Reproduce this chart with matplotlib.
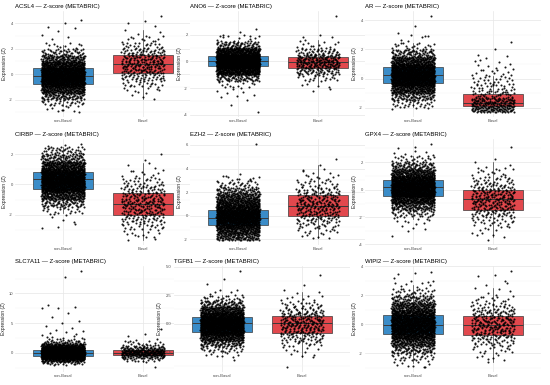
import numpy as np
import matplotlib
matplotlib.use("Agg")
import matplotlib.pyplot as plt
from matplotlib.ticker import MultipleLocator, FormatStrFormatter

plt.rcParams['font.family'] = ['Liberation Sans', 'DejaVu Sans']
plt.rcParams['axes.unicode_minus'] = False

# ---- data (Z-scores) ----
genes = ["ACSL4", "ANO6", "AR", "CIRBP", "EZH2", "GPX4", "SLC7A11", "TGFB1", "WIPI2"]
groups = ["non-Basal", "Basal"]

# box stats (q1, median, q3)
nb_box = [(-0.76, -0.16, 0.47), (-0.38, 0.00, 0.41), (-0.30, 0.23, 0.80),
          (-0.28, 0.33, 0.81), (-0.80, -0.17, 0.43), (-0.44, 0.17, 0.73),
          (-0.45, 0.05, 0.50), (-0.70, 0.03, 0.61), (-0.68, -0.05, 0.68)]
ba_box = [(0.11, 0.82, 1.53), (-0.53, -0.04, 0.33), (-1.85, -1.67, -1.03),
          (-1.99, -1.27, -0.57), (0.00, 0.77, 1.77), (-1.46, -0.71, 0.00),
          (-0.33, 0.05, 0.50), (-0.82, 0.06, 0.70), (-0.75, -0.05, 0.61)]

# point counts in 0.5-wide bins, starting at *_lo
nb_lo = [-3.0, -2.0, -2.5, -2.5, -2.1, -3.0, -2.0, -3.0, -3.0]
nb_counts = [
    [6, 26, 77, 171, 282, 339, 315, 216, 110, 42, 11],
    [12, 70, 255, 485, 485, 255, 68, 10],
    [0, 27, 80, 195, 340, 394, 325, 188, 73, 20, 4],
    [3, 18, 69, 175, 321, 401, 341, 207, 85, 40],
    [100, 150, 200, 280, 290, 230, 170, 120, 60, 25, 10],
    [2, 9, 36, 107, 220, 340, 368, 299, 170, 73, 22, 5],
    [20, 88, 244, 424, 441, 287, 112, 35, 12, 5],
    [7, 26, 71, 156, 259, 324, 325, 242, 144, 64, 23, 6],
    [8, 27, 73, 152, 247, 316, 316, 247, 152, 73, 27, 8, 2],
]
ba_lo = [-2.0, -2.0, -2.3, -3.5, -2.0, -3.5, -1.5, -3.0, -3.0]
ba_counts = [
    [3, 8, 19, 34, 49, 56, 52, 38, 23, 11, 4],
    [4, 18, 54, 88, 81, 41, 12, 2],
    [110, 90, 35, 25, 18, 12, 7, 3],
    [10, 22, 36, 51, 57, 49, 36, 20, 9, 3],
    [6, 13, 21, 33, 41, 46, 43, 36, 26, 16, 9, 4],
    [4, 10, 20, 36, 48, 55, 51, 37, 22, 11, 4],
    [10, 38, 85, 88, 48, 20, 8, 3],
    [3, 7, 16, 29, 42, 51, 51, 42, 29, 16, 7, 3],
    [0, 6, 13, 28, 45, 57, 57, 45, 28, 13, 5, 2],
]

# scattered points outside the dense cloud
nb_extra = [
    [4.3, 4.0, 3.7, 3.6, 3.4, 3.1, 2.9, 2.8, -3.0, -2.8],
    [2.4, 2.2, 2.0, 1.9, -2.1, -2.2, -2.3, -2.4, -2.5, -2.6, -2.7, -2.9, -3.3, -3.8],
    [4.3, 3.6, 3.1, 2.9, 2.6, -2.1],
    [2.67, 2.6, 2.55, -2.6, -2.8, -2.9],
    [6.1, 3.5, 3.4, 3.1],
    [3.34, 3.1, 3.0, -2.9, -3.0, -3.4],
    [13.8, 12.7, 8.1, 7.65, 7.6, 7.5, 6.7, 6.1, 5.4, 5.0, 4.6, 4.2, 3.9, 3.6, 3.5, 3.3, 3.2],
    [4.65, 3.97, 3.5, -3.2],
    [3.6, 3.55, 3.5, -2.9],
]
ba_extra = [
    [4.6, 4.2, 4.0, 3.8],
    [3.4, 2.0, 1.8, -2.1, -2.2],
    [2.5, 2.0, 1.6],
    [2.0, 1.6, -3.67, -3.6],
    [4.8, 4.3, 3.9],
    [3.1, 2.24, 1.6, 1.55, -3.69, -3.2],
    [4.0, 3.2, 2.9, -2.4],
    [4.27, 3.4, -3.83, -2.8],
    [3.69, 3.4, 3.3, 3.0, -2.6],
]

tick_step = [2, 2, 2, 2, 2, 2, 5, 2.5, 2]

BIN = 0.5
JIT = 0.27
BLUE = "#3a8cc8"
RED = "#e2484d"
EDGE = "#3a3a3a"


def vdc(k, base):
    # van der Corput fraction (Halton component), used to spread points inside a bin
    out = np.zeros(len(k))
    denom = np.ones(len(k))
    k = k.copy()
    while np.any(k > 0):
        denom *= base
        out += (k % base) / denom
        k //= base
    return out


def cloud(lo, counts, extra, center):
    xs, ys = [], []
    start = 1
    for i, c in enumerate(counts):
        if c == 0:
            continue
        k = np.arange(start, start + c)
        start += c
        ys.append(lo + i * BIN + vdc(k, 3) * BIN)
        xs.append(center + (vdc(k, 2) * 2 - 1) * JIT)
    ex = np.array(extra, dtype=float)
    ke = np.arange(1, len(ex) + 1)
    ys.append(ex)
    xs.append(center + (((ke * 0.6180339887 + 0.3) % 1.0) * 2 - 1) * JIT)
    return np.concatenate(xs), np.concatenate(ys)


def box_stats(vals, box):
    q1, med, q3 = box
    iqr = q3 - q1
    inside = vals[(vals >= q1 - 1.5 * iqr) & (vals <= q3 + 1.5 * iqr)]
    return dict(q1=q1, med=med, q3=q3, whislo=inside.min(), whishi=inside.max(), fliers=[])


fig = plt.figure(figsize=(5.5, 3.85), dpi=100)
W, H = 550.0, 385.0

panel_left = [15, 190, 365, 15, 190, 365, 15, 174, 365]
row_top = [11, 139, 266]
pw, ph = 176, 106

for i, gene in enumerate(genes):
    r = i // 3
    ax = fig.add_axes([panel_left[i] / W, 1 - (row_top[r] + ph) / H, pw / W, ph / H])

    nb_x, nb_vals = cloud(nb_lo[i], nb_counts[i], nb_extra[i], 1)
    ba_x, ba_vals = cloud(ba_lo[i], ba_counts[i], ba_extra[i], 2)

    stats = [box_stats(nb_vals, nb_box[i]), box_stats(ba_vals, ba_box[i])]
    bp = ax.bxp(stats, positions=[1, 2], widths=0.75, patch_artist=True,
                showfliers=False, showcaps=False,
                boxprops=dict(edgecolor=EDGE, linewidth=0.5),
                medianprops=dict(color=EDGE, linewidth=0.7),
                whiskerprops=dict(color=EDGE, linewidth=0.5))
    for patch, col in zip(bp['boxes'], [BLUE, RED]):
        patch.set_facecolor(col)
        patch.set_zorder(2)
    for ln in bp['medians'] + bp['whiskers']:
        ln.set_zorder(2.1)

    ax.scatter(nb_x, nb_vals, s=2.2, c='black', alpha=0.9, linewidths=0, zorder=3)
    ax.scatter(ba_x, ba_vals, s=2.2, c='black', alpha=0.9, linewidths=0, zorder=3)

    lo = min(nb_vals.min(), ba_vals.min())
    hi = max(nb_vals.max(), ba_vals.max())
    pad = (hi - lo) * 0.05
    ax.set_ylim(lo - pad, hi + pad)
    ax.set_xlim(0.4, 2.6)

    ax.yaxis.set_major_locator(MultipleLocator(tick_step[i]))
    ax.yaxis.set_minor_locator(MultipleLocator(tick_step[i] / 2))
    if gene == "TGFB1":
        ax.yaxis.set_major_formatter(FormatStrFormatter('%.1f'))
    ax.set_xticks([1, 2])
    ax.set_xticklabels(groups)

    ax.set_axisbelow(True)
    ax.grid(which='major', axis='both', color='#e6e6e6', linewidth=0.5)
    ax.grid(which='minor', axis='y', color='#f3f3f3', linewidth=0.35)
    for sp in ax.spines.values():
        sp.set_visible(False)
    ax.tick_params(which='both', length=0, labelsize=3, colors='#4d4d4d', pad=1.5)

    ax.set_title(f"{gene} \u2014 Z-score (METABRIC)", loc='left', fontsize=4.3, pad=2.5)
    ax.set_ylabel("Expression (Z)", fontsize=3.6, labelpad=2, color='#222222')

fig.savefig("out.png", dpi=100)
